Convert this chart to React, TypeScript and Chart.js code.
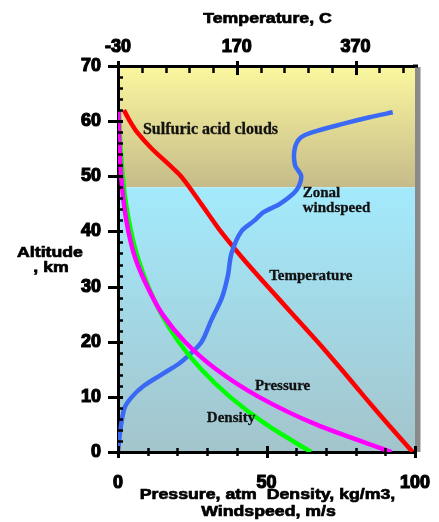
import React, { useEffect, useRef } from 'react';
import { Chart, registerables } from 'chart.js';

Chart.register(...registerables);

// Altitude grid (km) for temperature, pressure and density
const altitudesKm = [0, 5, 10, 15, 20, 25, 30, 35, 40, 45, 50, 55, 58, 60, 62];
const temperatureC = [466, 425, 385, 346, 306, 264, 222, 181, 143, 110, 76, 27, 2, -10, -20];
const pressureAtm = [92.1, 66.65, 47.39, 33.04, 22.52, 14.93, 9.851, 5.917, 3.501, 1.979, 1.066, 0.5314, 0.33, 0.2357, 0.166];
const densityKgM3 = [65.0, 49.9, 37.7, 28.0, 20.4, 14.6, 10.2, 6.8, 4.4, 2.7, 1.6, 0.9, 0.6, 0.47, 0.35];

// Zonal windspeed (m/s) vs altitude (km)
const windAltitudesKm = [0, 4, 8, 10, 12, 14, 16, 18, 20, 24, 28, 32, 36, 40, 42, 43.5, 45, 47.5, 50, 52, 55, 57, 58, 59.5, 60.7, 61.6];
const windSpeedMs = [0, 0.8, 2.2, 4.7, 8.7, 14.5, 20.5, 24.8, 28.2, 31.5, 35, 37, 38.2, 41.5, 46, 49, 54.5, 60.1, 61.7, 59.6, 59.5, 61.5, 65.6, 75.7, 84.7, 92.5];

// Axis ticks
const bottomTickValues = [0, 10, 20, 30, 40, 50, 60, 70, 80, 90, 100];
const bottomTickLabels = [0, 50, 100];
const topTickValues = [-30, 10, 50, 90, 130, 170, 210, 250, 290, 330, 370, 410, 450];
const topTickLabels = [-30, 170, 370];
const altitudeTickValues = [0, 10, 20, 30, 40, 50, 60, 70];
const altitudeMinorTicks = [0, 2, 4, 6, 8, 10, 12, 14, 16, 18, 20, 22, 24, 26, 28, 30, 32, 34, 36, 38, 40, 42, 44, 46, 48, 50, 52, 54, 56, 58, 60, 62, 64, 66, 68, 70];
const cloudBaseKm = 48;

const SANS = '"Liberation Sans", Arial, Helvetica, sans-serif';
const SERIF = '"Liberation Serif", "Times New Roman", Times, serif';

const tickFont = { family: SANS, size: 18, weight: 'bold' as const };

const decorPlugin = {
  id: 'venusDecor',
  beforeDraw(chart: any) {
    const { ctx, chartArea } = chart;
    const y = chart.scales.y;
    const { left, right, top, bottom } = chartArea;
    const yCloud = y.getPixelForValue(cloudBaseKm);
    ctx.save();
    let g = ctx.createLinearGradient(0, top, 0, yCloud);
    g.addColorStop(0, '#fbf89f');
    g.addColorStop(1, '#c5bb89');
    ctx.fillStyle = g;
    ctx.fillRect(left, top, right - left, yCloud - top);
    g = ctx.createLinearGradient(0, yCloud, 0, bottom);
    g.addColorStop(0, '#a3eafd');
    g.addColorStop(1, '#a3c4cb');
    ctx.fillStyle = g;
    ctx.fillRect(left, yCloud, right - left, bottom - yCloud);
    ctx.restore();
  },
  afterDraw(chart: any) {
    const { ctx, chartArea } = chart;
    const { left, right, top, bottom } = chartArea;
    const x = chart.scales.x;
    const x2 = chart.scales.x2;
    const y = chart.scales.y;
    ctx.save();
    // right gray edge
    ctx.fillStyle = '#8a8a8a';
    ctx.fillRect(right, top + 1, 5.5, bottom - top - 1);

    ctx.strokeStyle = '#000';
    ctx.lineCap = 'butt';
    // altitude ticks
    altitudeMinorTicks.forEach((v) => {
      const p = Math.round(y.getPixelForValue(v)) + 0.5;
      const major = altitudeTickValues.includes(v);
      ctx.lineWidth = major ? 3 : 2.5;
      ctx.beginPath();
      ctx.moveTo(major ? left - 10 : left, p);
      ctx.lineTo(left + 5, p);
      ctx.stroke();
    });
    // bottom ticks
    bottomTickValues.forEach((v) => {
      const p = Math.round(x.getPixelForValue(v)) + 0.5;
      const major = bottomTickLabels.includes(v);
      ctx.lineWidth = major ? 3 : 2.5;
      ctx.beginPath();
      ctx.moveTo(p, bottom - (major ? 6 : 4));
      ctx.lineTo(p, bottom + (major ? 6 : 4));
      ctx.stroke();
    });
    // top ticks
    topTickValues.forEach((v) => {
      const p = Math.round(x2.getPixelForValue(v)) + 0.5;
      const major = topTickLabels.includes(v);
      ctx.lineWidth = major ? 3 : 2.5;
      ctx.beginPath();
      ctx.moveTo(p, top - (major ? 5 : 0));
      ctx.lineTo(p, top + (major ? 9 : 7));
      ctx.stroke();
    });
    // extend top axis slightly over the gray edge
    ctx.lineWidth = 3;
    ctx.beginPath();
    ctx.moveTo(right - 2, top);
    ctx.lineTo(right + 3, top);
    ctx.stroke();

    // curve annotations
    ctx.fillStyle = '#111';
    ctx.strokeStyle = '#111';
    ctx.lineWidth = 0.3;
    ctx.textAlign = 'left';
    ctx.textBaseline = 'alphabetic';
    const note = (t: string, xv: number, yv: number, size: number) => {
      ctx.font = `bold ${size}px ${SERIF}`;
      const px = x.getPixelForValue(xv);
      const py = y.getPixelForValue(yv);
      ctx.fillText(t, px, py);
      ctx.strokeText(t, px, py);
    };
    note('Sulfuric acid clouds', 8.4, 57.7, 16);
    note('Zonal', 62.2, 46.2, 15);
    note('windspeed', 62.2, 43.6, 15);
    note('Temperature', 50.9, 31.2, 15);
    note('Pressure', 46.1, 11.2, 15);
    note('Density', 29.9, 5.5, 15);

    // axis titles (wide heavy sans)
    const wide = (t: string, cx: number, by: number) => {
      ctx.save();
      ctx.font = `bold 15px ${SANS}`;
      ctx.textAlign = 'center';
      ctx.translate(cx, by);
      ctx.scale(1.18, 1);
      ctx.fillStyle = '#000';
      ctx.strokeStyle = '#000';
      ctx.lineWidth = 0.7;
      ctx.fillText(t, 0, 0);
      ctx.strokeText(t, 0, 0);
      ctx.restore();
    };
    const cx = (left + right) / 2 + 1;
    wide('Temperature, C', cx, 22.5);
    wide('Pressure, atm  Density, kg/m3,', cx, 498.5);
    wide('Windspeed, m/s', cx + 1, 516);
    wide('Altitude', 50, 257);
    wide(', km', 51, 271.5);
    ctx.restore();
  },
};

const noPad = (s: any) => {
  s.paddingLeft = 0;
  s.paddingRight = 0;
  s.paddingTop = 0;
  s.paddingBottom = 0;
};

export default function App() {
  const canvasRef = useRef<HTMLCanvasElement | null>(null);

  useEffect(() => {
    if (!canvasRef.current) return;
    const line = (label: string, data: { x: number; y: number }[], color: string, xAxisID: string, tension: number) => ({
      label,
      data,
      xAxisID,
      yAxisID: 'y',
      borderColor: color,
      backgroundColor: color,
      borderWidth: 4.5,
      pointRadius: 0,
      showLine: true,
      fill: false,
      tension,
    });
    const chart = new Chart(canvasRef.current, {
      type: 'scatter',
      data: {
        datasets: [
          line('Pressure', altitudesKm.map((a, i) => ({ x: pressureAtm[i], y: a })), '#ff00ff', 'x', 0.3),
          line('Density', altitudesKm.map((a, i) => ({ x: densityKgM3[i], y: a })), '#00ff00', 'x', 0.3),
          line('Zonal windspeed', windAltitudesKm.map((a, i) => ({ x: windSpeedMs[i], y: a })), '#3a6af5', 'x', 0.3),
          line('Temperature', altitudesKm.map((a, i) => ({ x: temperatureC[i], y: a })), '#ff0000', 'x2', 0.2),
        ],
      },
      options: {
        animation: false,
        responsive: true,
        maintainAspectRatio: false,
        layout: { padding: { left: 0, right: 24, top: 0, bottom: 0 } },
        plugins: { legend: { display: false }, tooltip: { enabled: false } },
        scales: {
          x: {
            type: 'linear',
            position: 'bottom',
            min: 0,
            max: 100,
            afterBuildTicks: (s: any) => {
              s.ticks = bottomTickValues.map((v) => ({ value: v }));
            },
            afterFit: (s: any) => {
              s.height = 70;
              noPad(s);
            },
            ticks: {
              autoSkip: false,
              maxRotation: 0,
              padding: 20,
              color: '#000',
              font: tickFont,
              textStrokeColor: '#000',
              textStrokeWidth: 1.2,
              callback: (v: any) => (bottomTickLabels.includes(Number(v)) ? String(v) : ''),
            },
            grid: { display: false, drawTicks: false },
            border: { display: true, color: '#000', width: 3 },
          },
          x2: {
            type: 'linear',
            position: 'top',
            min: -30,
            max: 470,
            afterBuildTicks: (s: any) => {
              s.ticks = topTickValues.map((v) => ({ value: v }));
            },
            afterFit: (s: any) => {
              s.height = 66;
              noPad(s);
            },
            ticks: {
              autoSkip: false,
              maxRotation: 0,
              padding: 8,
              color: '#000',
              font: tickFont,
              textStrokeColor: '#000',
              textStrokeWidth: 1.2,
              callback: (v: any) => (topTickLabels.includes(Number(v)) ? String(v) : ''),
            },
            grid: { display: false, drawTicks: false },
            border: { display: true, color: '#000', width: 3 },
          },
          y: {
            type: 'linear',
            position: 'left',
            min: 0,
            max: 70,
            afterBuildTicks: (s: any) => {
              s.ticks = altitudeTickValues.map((v) => ({ value: v }));
            },
            afterFit: (s: any) => {
              s.width = 118;
              noPad(s);
            },
            ticks: {
              autoSkip: false,
              padding: 17,
              color: '#000',
              font: tickFont,
              textStrokeColor: '#000',
              textStrokeWidth: 1.2,
            },
            grid: { display: false, drawTicks: false },
            border: { display: true, color: '#000', width: 3 },
          },
        },
      },
      plugins: [decorPlugin],
    });
    return () => chart.destroy();
  }, []);

  return (
    <div style={{ position: 'fixed', left: 0, top: 0, width: 439, height: 522, background: '#fff' }}>
      <canvas ref={canvasRef} />
    </div>
  );
}
